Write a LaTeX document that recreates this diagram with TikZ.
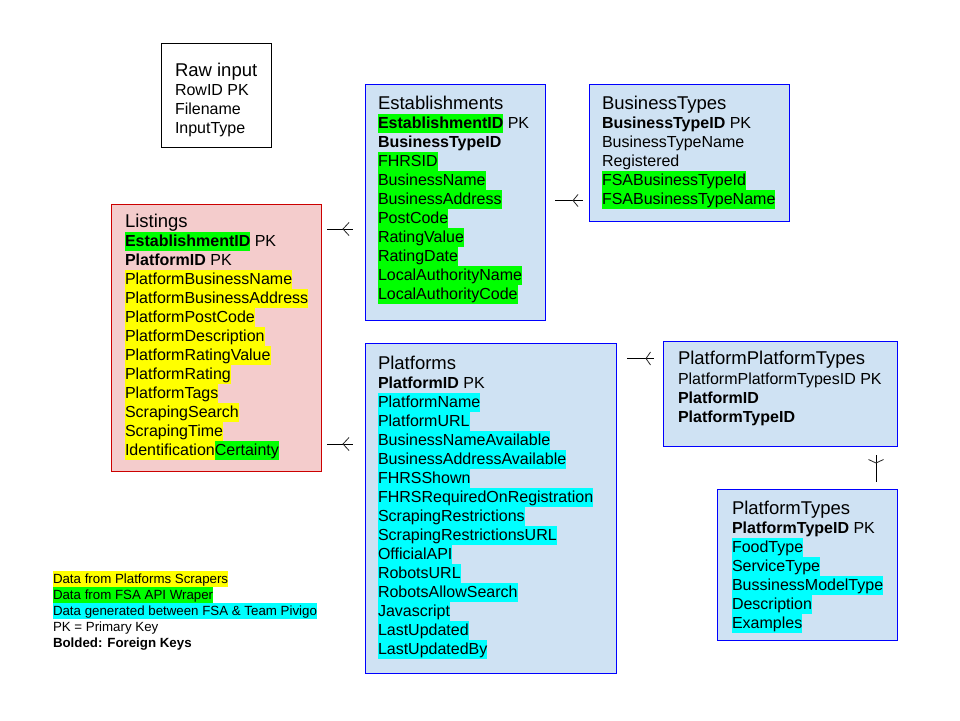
\documentclass[tikz,border=0pt]{standalone}
\usepackage{fontspec}
\setmainfont{Liberation Sans}
\definecolor{hly}{HTML}{FFFF00}
\definecolor{hlg}{HTML}{00FF00}
\definecolor{hlc}{HTML}{00FFFF}
\definecolor{boxblue}{HTML}{CFE2F3}
\definecolor{edgeblue}{HTML}{0000FF}
\definecolor{boxpink}{HTML}{F4CCCC}
\definecolor{edgered}{HTML}{CC0000}
\newcommand\hlbox[2]{{\setlength{\fboxsep}{0pt}\colorbox{#1}{\rule[-5pt]{0pt}{19pt}#2}}}
\newcommand\hy[1]{\hlbox{hly}{#1}}
\newcommand\hg[1]{\hlbox{hlg}{#1}}
\newcommand\hc[1]{\hlbox{hlc}{#1}}
\newcommand\lgbox[2]{{\setlength{\fboxsep}{0pt}\colorbox{#1}{\rule[-4pt]{0pt}{16pt}#2}}}
\newcommand\tablelines[4]{%
  \foreach \t [count=\i] in {#4} {%
    \node[lnstyle] (#1\i) at (#2,{#3+19*(\i-1)}) {\t};}}
\tikzset{
  lnstyle/.style={anchor=base west, inner sep=0pt, outer sep=0pt, font=\fontsize{16}{19}\selectfont},
  ttlstyle/.style={anchor=base west, inner sep=0pt, outer sep=0pt, font=\fontsize{18.5}{22}\selectfont},
  lgstyle/.style={anchor=base west, inner sep=0pt, outer sep=0pt, font=\fontsize{13.3}{16}\selectfont},
  bluetbl/.style={draw=edgeblue, fill=boxblue, line width=1pt, anchor=north west, inner sep=0pt},
  redtbl/.style={draw=edgered, fill=boxpink, line width=1pt, anchor=north west, inner sep=0pt},
  rawtbl/.style={draw=black, fill=white, line width=1pt, anchor=north west, inner sep=0pt},
  conn/.style={draw=black, line width=1pt},
  prong/.style={draw=black!85, line width=0.8pt},
}
\begin{document}
\begin{tikzpicture}[x=1pt,y=-1pt]
\useasboundingbox[fill=white] (0,0) rectangle (960,720);

% boxes
\node[rawtbl, minimum width=110, minimum height=104] (raw) at (161,43) {};
\node[bluetbl, minimum width=180, minimum height=236] (est) at (365,84) {};
\node[bluetbl, minimum width=200, minimum height=137] (bt) at (589,84) {};
\node[redtbl, minimum width=210, minimum height=267] (lst) at (111,204) {};
\node[bluetbl, minimum width=251, minimum height=330] (plat) at (365,343) {};
\node[bluetbl, minimum width=234, minimum height=105] (ppt) at (663,341) {};
\node[bluetbl, minimum width=180, minimum height=151] (pt) at (717,489) {};

% Raw input
\node[ttlstyle] (rawT) at (175,76) {Raw input};
\tablelines{raw}{175}{95}{{RowID PK},{Filename},{InputType}}

% Establishments
\node[ttlstyle] (estT) at (378,109) {Establishments};
\tablelines{est}{378}{128}{{\hg{\textbf{EstablishmentID}} PK},{\textbf{BusinessTypeID}},{\hg{FHRSID}},{\hg{BusinessName}},{\hg{BusinessAddress}},{\hg{PostCode}},{\hg{RatingValue}},{\hg{RatingDate}},{\hg{LocalAuthorityName}},{\hg{LocalAuthorityCode}}}

% BusinessTypes
\node[ttlstyle] (btT) at (602,109) {BusinessTypes};
\tablelines{bt}{602}{128}{{\textbf{BusinessTypeID} PK},{BusinessTypeName},{Registered},{\hg{FSABusinessTypeId}},{\hg{FSABusinessTypeName}}}

% Listings
\node[ttlstyle] (lstT) at (125,227) {Listings};
\tablelines{lst}{125}{246}{{\hg{\textbf{EstablishmentID}} PK},{\textbf{PlatformID} PK},{\hy{PlatformBusinessName}},{\hy{PlatformBusinessAddress}},{\hy{PlatformPostCode}},{\hy{PlatformDescription}},{\hy{PlatformRatingValue}},{\hy{PlatformRating}},{\hy{PlatformTags}},{\hy{ScrapingSearch}},{\hy{ScrapingTime}},{\hy{Identification}\hg{Certainty}}}

% Platforms
\node[ttlstyle] (platT) at (378,369) {Platforms};
\tablelines{plat}{378}{388}{{\textbf{PlatformID} PK},{\hc{PlatformName}},{\hc{PlatformURL}},{\hc{BusinessNameAvailable}},{\hc{BusinessAddressAvailable}},{\hc{FHRSShown}},{\hc{FHRSRequiredOnRegistration}},{\hc{ScrapingRestrictions}},{\hc{ScrapingRestrictionsURL}},{\hc{OfficialAPI}},{\hc{RobotsURL}},{\hc{RobotsAllowSearch}},{\hc{Javascript}},{\hc{LastUpdated}},{\hc{LastUpdatedBy}}}

% PlatformPlatformTypes
\node[ttlstyle] (pptT) at (678,364) {PlatformPlatformTypes};
\tablelines{ppt}{678}{384}{{PlatformPlatformTypesID PK},{\textbf{PlatformID}},{\textbf{PlatformTypeID}}}

% PlatformTypes
\node[ttlstyle] (ptT) at (732,514) {PlatformTypes};
\tablelines{pt}{732}{533}{{\textbf{PlatformTypeID} PK},{\hc{FoodType}},{\hc{ServiceType}},{\hc{BussinessModelType}},{\hc{Description}},{\hc{Examples}}}

% Legend
\node[lgstyle] (lg1) at (53,583) {\lgbox{hly}{Data from Platforms Scrapers}};
\node[lgstyle] (lg2) at (53,599) {\lgbox{hlg}{Data from FSA API Wraper}};
\node[lgstyle] (lg3) at (53,615) {\lgbox{hlc}{Data generated between FSA \& Team Pivigo}};
\node[lgstyle] (lg4) at (53,631) {PK = Primary Key};
\node[lgstyle] (lg5) at (53,647) {\textbf{Bolded: Foreign Keys}};

% connector end points
\coordinate (c1a) at (327,229); \coordinate (c1b) at (353,229); \coordinate (c1v) at (343,229);
\coordinate (c2a) at (327,444); \coordinate (c2b) at (353,444); \coordinate (c2v) at (343,444);
\coordinate (c3a) at (555,200.5); \coordinate (c3b) at (583,200.5); \coordinate (c3v) at (573,200.5);
\coordinate (c4a) at (627,358.5); \coordinate (c4b) at (654,358.5); \coordinate (c4v) at (646,358.5);
\coordinate (c5a) at (876,455); \coordinate (c5b) at (876,482); \coordinate (c5v) at (876,463);

% connectors with crow's feet
\draw[conn] (c1a) -- (c1b);
\draw[prong] ([shift={(6,-6.5)}]c1v) -- (c1v) -- ([shift={(6,6.5)}]c1v);
\draw[conn] (c2a) -- (c2b);
\draw[prong] ([shift={(6,-6.5)}]c2v) -- (c2v) -- ([shift={(6,6.5)}]c2v);
\draw[conn] (c3a) -- (c3b);
\draw[prong] ([shift={(5,-6)}]c3v) -- (c3v) -- ([shift={(5,6)}]c3v);
\draw[conn] (c4a) -- (c4b);
\draw[prong] ([shift={(4.5,-6.5)}]c4v) -- (c4v) -- ([shift={(4.5,6.5)}]c4v);
\draw[conn] (c5a) -- (c5b);
\draw[prong] ([shift={(-7.5,-3.5)}]c5v) -- (c5v) -- ([shift={(7.5,-3.5)}]c5v);
\end{tikzpicture}
\end{document}
